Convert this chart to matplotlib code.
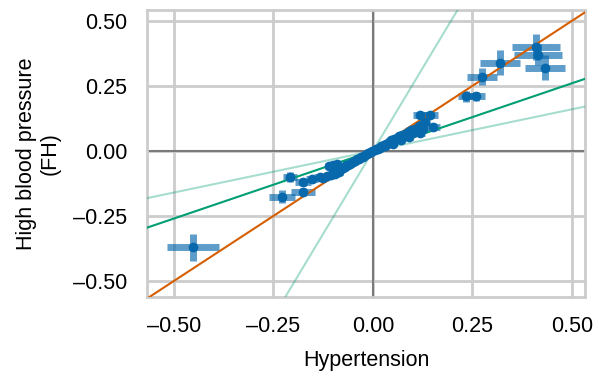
import matplotlib
matplotlib.use("Agg")
import matplotlib.pyplot as plt

plt.rcParams["font.family"] = ["Liberation Sans", "DejaVu Sans"]

# slopes of reference lines through the origin
SLOPE_MAIN = 1.0      # orange
SLOPE_FIT = 0.52      # green
SLOPE_LO = 0.32       # light green (lower)
SLOPE_HI = 2.55       # light green (upper)

# outlying variants with large errors
out_x = [-0.452, -0.229, -0.209, -0.176, -0.176, -0.153, -0.133, 0.235, 0.26, 0.274, 0.32, 0.41, 0.415, 0.432, 0.118, 0.143, 0.15, 0.118]
out_y = [-0.37, -0.177, -0.10, -0.157, -0.12, -0.11, -0.10, 0.21, 0.21, 0.285, 0.34, 0.40, 0.37, 0.32, 0.138, 0.138, 0.092, 0.07]
out_xerr = [0.066, 0.032, 0.018, 0.03, 0.02, 0.015, 0.015, 0.02, 0.022, 0.038, 0.05, 0.06, 0.06, 0.05, 0.018, 0.02, 0.018, 0.012]
out_yerr = [0.052, 0.025, 0.02, 0.015, 0.015, 0.012, 0.012, 0.02, 0.018, 0.033, 0.048, 0.05, 0.04, 0.048, 0.012, 0.012, 0.015, 0.01]

# dense cluster near the origin
cl_x = [-0.125, -0.115, -0.11, -0.105, -0.10, -0.10, -0.095, -0.09, -0.09, -0.085, -0.08, -0.075, -0.07,
        -0.068, -0.062, -0.058, -0.055, -0.05, -0.046, -0.042, -0.04, -0.036, -0.032, -0.03, -0.026,
        -0.022, -0.02, -0.016, -0.012, -0.01, -0.006, -0.003,
        0.005, 0.008, 0.012, 0.015, 0.018, 0.02, 0.024, 0.027, 0.03, 0.033, 0.036, 0.04, 0.043, 0.046,
        0.05, 0.053, 0.056, 0.06, 0.063, 0.066, 0.07, 0.073, 0.076, 0.08, 0.085, 0.088, 0.092, 0.096,
        0.10, 0.105, 0.11, 0.115, 0.12, 0.13, 0.125, 0.03, 0.05, 0.07, 0.09]
cl_y = [-0.105, -0.098, -0.06, -0.092, -0.085, -0.055, -0.088, -0.075, -0.05, -0.08, -0.07, -0.066, -0.062,
        -0.055, -0.054, -0.05, -0.045, -0.044, -0.04, -0.036, -0.032, -0.03, -0.028, -0.024, -0.022,
        -0.019, -0.015, -0.013, -0.010, -0.007, -0.005, -0.002,
        0.004, 0.008, 0.009, 0.013, 0.012, 0.018, 0.017, 0.024, 0.02, 0.028, 0.025, 0.034, 0.03, 0.04,
        0.036, 0.045, 0.04, 0.05, 0.046, 0.056, 0.05, 0.062, 0.055, 0.066, 0.06, 0.072, 0.065, 0.08,
        0.07, 0.086, 0.078, 0.095, 0.10, 0.11, 0.085, 0.017, 0.028, 0.042, 0.052]
cl_xerr = [0.012, 0.01, 0.01, 0.012, 0.01, 0.01, 0.01, 0.01, 0.008, 0.01, 0.008, 0.008, 0.008,
           0.008, 0.007, 0.007, 0.007, 0.006, 0.006, 0.006, 0.006, 0.005, 0.005, 0.005, 0.005,
           0.004, 0.004, 0.004, 0.004, 0.003, 0.003, 0.003,
           0.003, 0.003, 0.004, 0.004, 0.004, 0.005, 0.005, 0.005, 0.005, 0.006, 0.006, 0.006, 0.006, 0.007,
           0.007, 0.007, 0.008, 0.008, 0.008, 0.008, 0.009, 0.009, 0.009, 0.01, 0.01, 0.01, 0.01, 0.012,
           0.012, 0.012, 0.012, 0.014, 0.014, 0.014, 0.012, 0.005, 0.007, 0.009, 0.01]
cl_yerr = [0.008, 0.008, 0.007, 0.008, 0.007, 0.007, 0.007, 0.007, 0.006, 0.007, 0.006, 0.006, 0.006,
           0.006, 0.005, 0.005, 0.005, 0.005, 0.005, 0.004, 0.004, 0.004, 0.004, 0.004, 0.003,
           0.003, 0.003, 0.003, 0.003, 0.002, 0.002, 0.002,
           0.002, 0.002, 0.003, 0.003, 0.003, 0.003, 0.004, 0.004, 0.004, 0.004, 0.005, 0.005, 0.005, 0.005,
           0.005, 0.006, 0.006, 0.006, 0.006, 0.007, 0.007, 0.007, 0.007, 0.008, 0.008, 0.008, 0.008, 0.009,
           0.009, 0.009, 0.01, 0.01, 0.01, 0.01, 0.009, 0.004, 0.005, 0.006, 0.007]

x = out_x + cl_x
y = out_y + cl_y
xerr = out_xerr + cl_xerr
yerr = out_yerr + cl_yerr

XLIM = (-0.568, 0.533)
YLIM = (-0.562, 0.542)
TICKS = [-0.5, -0.25, 0.0, 0.25, 0.5]

BLUE = "#0868ac"; ORANGE = "#d55e00"; GREEN = "#009e73"; GRID = "#cccccc"

fig = plt.figure(figsize=(5.99, 3.77), dpi=100)
ax = fig.add_axes([0.2454, 0.2122, 0.7312, 0.7613])
ax.set_xlim(XLIM); ax.set_ylim(YLIM)
ax.set_xticks(TICKS); ax.set_yticks(TICKS)
ax.set_xticklabels([f"{t:.2f}".replace("-", "\u2013") for t in TICKS])
ax.set_yticklabels([f"{t:.2f}".replace("-", "\u2013") for t in TICKS])
ax.grid(True, color=GRID, lw=2, zorder=0); ax.set_axisbelow(True)
for s in ax.spines.values(): s.set_color(GRID); s.set_linewidth(2)
ax.tick_params(length=0, pad=14, labelsize=15.5)
ax.axhline(0, color="#7a7a7a", lw=1.5, zorder=1)
ax.axvline(0, color="#7a7a7a", lw=1.5, zorder=1)

ax.errorbar(x, y, xerr=xerr, yerr=yerr, fmt="none", ecolor=BLUE, alpha=0.65, elinewidth=5, capsize=0, zorder=2)
ax.axline((0, 0), slope=SLOPE_HI, color=GREEN, alpha=0.35, lw=1.5, zorder=3)
ax.axline((0, 0), slope=SLOPE_LO, color=GREEN, alpha=0.35, lw=1.5, zorder=3)
ax.axline((0, 0), slope=SLOPE_FIT, color=GREEN, lw=1.5, zorder=3)
ax.axline((0, 0), slope=SLOPE_MAIN, color=ORANGE, lw=1.5, zorder=3)
ax.plot(x, y, "o", color=BLUE, ms=7, mew=0, zorder=4)

ax.set_xlabel("Hypertension", fontsize=15.5, labelpad=9)
ax.set_ylabel("High blood pressure\n(FH)", fontsize=15.5, labelpad=9)
fig.savefig("out.png", dpi=100)
